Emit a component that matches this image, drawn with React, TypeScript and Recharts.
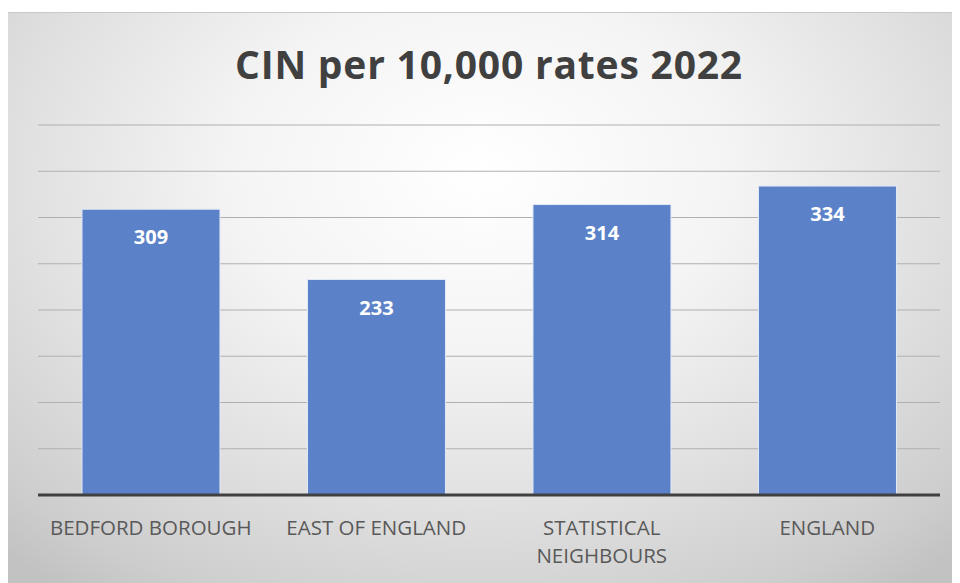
import React from "react";
import { BarChart, Bar, XAxis, YAxis, CartesianGrid, LabelList } from "recharts";

const categories = ["BEDFORD BOROUGH", "EAST OF ENGLAND", "STATISTICAL NEIGHBOURS", "ENGLAND"];
const rates = [309, 233, 314, 334];
const yTicks = [0, 50, 100, 150, 200, 250, 300, 350, 400];
const title = "CIN per 10,000 rates 2022";

const data = categories.map((c, i) => ({ name: c, value: rates[i] }));

const FONT = "'Open Sans', 'Liberation Sans', sans-serif";

const wrap = (s: string, maxChars: number) => {
  const words = s.split(" ");
  const lines: string[] = [];
  let cur = "";
  for (const w of words) {
    const next = cur ? cur + " " + w : w;
    if (next.length > maxChars && cur) {
      lines.push(cur);
      cur = w;
    } else cur = next;
  }
  if (cur) lines.push(cur);
  return lines;
};

const Tick = (props: any) => {
  const { x, y, payload } = props;
  const lines = wrap(String(payload.value), 16);
  return (
    <text
      x={x}
      y={y + 32}
      textAnchor="middle"
      fontSize={20.5}
      fill="#595959"
      fontFamily={FONT}
    >
      {lines.map((l, i) => (
        <tspan key={i} x={x} dy={i === 0 ? 0 : 28}>
          {l}
        </tspan>
      ))}
    </text>
  );
};

export default function App() {
  return (
    <div
      style={{
        position: "relative",
        width: 948,
        height: 571,
        marginTop: 4,
        marginLeft: -1,
        borderTop: "1px solid #c8c8c8",
        boxSizing: "border-box",
        background:
          "radial-gradient(ellipse 75% 90% at 50% 28%, #ffffff 0%, #f4f4f4 35%, #e0e0e0 65%, #cdcdcd 90%, #c2c2c2 100%)",
      }}
    >
      <div
        style={{
          position: "absolute",
          top: 24,
          left: 31,
          width: 902,
          textAlign: "center",
          fontFamily: FONT,
          fontWeight: 700,
          fontSize: 39,
          letterSpacing: 0.8,
          color: "#404040",
        }}
      >
        {title}
      </div>
      <BarChart
        width={948}
        height={570}
        data={data}
        margin={{ top: 112, right: 15, bottom: 30, left: 31 }}
        barCategoryGap="19.5%"
        style={{ position: "absolute", top: 0, left: 0 }}
      >
        <CartesianGrid vertical={false} stroke="#b0b0b0" strokeWidth={1.2} />
        <YAxis hide domain={[0, 400]} ticks={yTicks} />
        <XAxis
          dataKey="name"
          tickLine={false}
          axisLine={{ stroke: "#404040", strokeWidth: 3 }}
          tick={<Tick />}
          interval={0}
          height={58}
        />
        <Bar dataKey="value" fill="#5b82c8" stroke="#e3eaf6" strokeWidth={1} isAnimationActive={false}>
          <LabelList
            dataKey="value"
            position="insideTop"
            offset={21}
            fill="#ffffff"
            fontSize={20}
            fontWeight={700}
            fontFamily={FONT}
          />
        </Bar>
      </BarChart>
    </div>
  );
}
